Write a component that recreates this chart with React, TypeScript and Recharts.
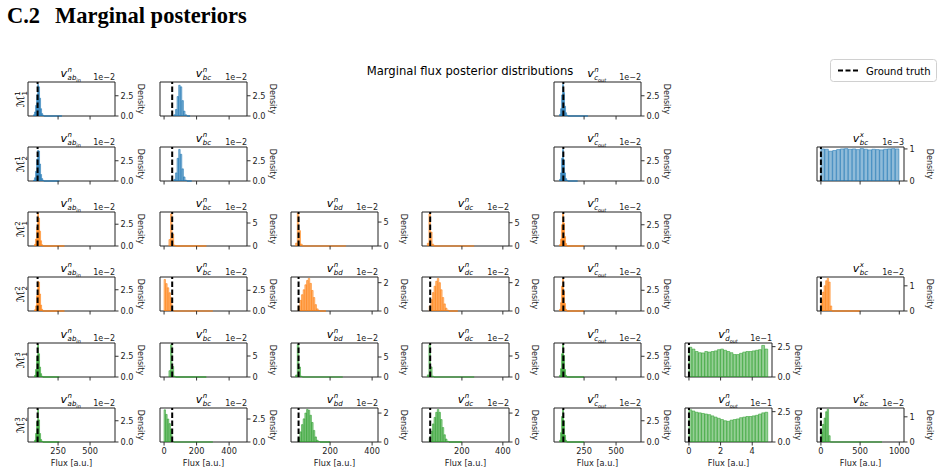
import React from 'react';
import { ComposedChart, Bar, XAxis, YAxis, ReferenceLine, ReferenceArea } from 'recharts';

const FONT = "'DejaVu Sans', sans-serif";

// ---- column definitions ----
const colDomains: [number, number][] = [[15, 695], [-25, 510], [14, 428], [5, 430], [15, 695], [-0.25, 5.25], [-50, 1060]];
const colTicks = [[250, 500], [0, 200, 400], [200, 400], [200, 400], [250, 500], [0, 2, 4], [0, 500, 1000]];
const groundTruth = [90, 50, 50, 45, 88, 0, 0];
const colSup = ['n', 'n', 'n', 'n', 'n', 'n', 'x'];
const colSub = ['ab', 'bc', 'bd', 'dc', 'c', 'd', 'bc'];
const colSubSub = ['in', '', '', '', 'out', 'out', ''];
const rowColors = ['#1f77b4', '#1f77b4', '#ff7f0e', '#ff7f0e', '#2ca02c', '#2ca02c'];
const rowSup = ['1', '1', '2', '2', '3', '3'];
const rowSub = ['1', '2', '1', '2', '1', '2'];

// ---- histogram values (density, in units of the offset label) ----
const histR1C1 = [0.15, 0.5, 1.3, 2.6, 3.9, 3.6, 2.2, 0.9, 0.3, 0.1];
const histR2C1 = [0.1, 0.4, 1.2, 2.7, 3.8, 3.7, 2.1, 0.8, 0.3, 0.1];
const histR3C1 = [0.2, 0.8, 2.2, 3.8, 3.2, 1.7, 0.6, 0.15];
const histR4C1 = [0.15, 0.6, 1.8, 3.5, 3.4, 2.0, 0.7, 0.2];
const histR5C1 = [0.2, 0.9, 2.5, 3.9, 2.8, 1.2, 0.4, 0.1];
const histR6C1 = [0.2, 1.0, 2.4, 3.8, 2.6, 1.0, 0.3, 0.1];

const histR1C2 = [0.15, 0.8, 2.4, 3.8, 3.6, 1.9, 0.6, 0.15];
const histR2C2 = [0.2, 1.0, 2.8, 3.9, 3.3, 1.5, 0.5, 0.1];
const histR3C2 = [1.4, 7.0, 2.6, 0.2];
const histR4C2 = [3.8, 3.3, 2.8, 2.2, 1.6, 0.05];
const histR5C2 = [1.5, 7.7, 2.5, 0.2];
const histR6C2 = [3.5, 3.0, 2.5, 2.0, 1.4, 0.05];

const histR3C3 = [0.6, 6.9, 3.2, 0.4];
const histR4C3 = [0.35, 0.75, 1.15, 1.5, 1.85, 2.15, 2.3, 1.95, 1.45, 0.95, 0.45, 0.15, 0.04];
const histR5C3 = [0.5, 8.1, 2.5, 0.2];
const histR6C3 = [0.3, 0.7, 1.2, 1.6, 2.0, 2.25, 2.2, 1.85, 1.35, 0.8, 0.35, 0.12, 0.03];

const histR3C4 = [0.6, 6.9, 3.0, 0.4];
const histR4C4 = [0.35, 0.8, 1.3, 1.75, 2.1, 2.3, 2.0, 1.5, 0.95, 0.5, 0.2, 0.06];
const histR5C4 = [0.5, 7.7, 2.4, 0.2];
const histR6C4 = [0.3, 0.75, 1.25, 1.7, 2.05, 2.25, 2.05, 1.55, 1.0, 0.5, 0.2, 0.05];

const histR1C5 = [0.2, 0.9, 2.6, 3.9, 2.9, 1.2, 0.4, 0.1];
const histR2C5 = [0.2, 1.0, 2.8, 3.9, 2.6, 1.0, 0.3, 0.1];
const histR3C5 = [0.15, 0.8, 2.5, 3.8, 2.7, 1.1, 0.3];
const histR4C5 = [0.2, 1.0, 3.0, 3.9, 2.4, 0.9, 0.2];
const histR5C5 = [0.2, 1.0, 2.8, 3.9, 2.6, 0.9, 0.2];
const histR6C5 = [0.2, 1.1, 3.0, 3.8, 2.5, 0.8, 0.2];

const histR5C6 = [2.45, 2.3, 2.1, 2.0, 1.98, 2.1, 2.05, 2.1, 2.15, 2.25, 2.3, 2.2, 2.1, 2.0, 1.85, 1.85, 1.95, 2.05, 2.1, 2.1, 2.15, 2.2, 2.25, 2.6, 2.3];
const histR6C6 = [2.65, 2.55, 2.45, 2.4, 2.35, 2.3, 2.25, 2.15, 2.05, 1.95, 1.85, 1.75, 1.7, 1.8, 1.85, 1.9, 2.0, 2.05, 2.1, 2.1, 2.15, 2.2, 2.3, 2.4, 2.45];

const histR2C7 = [1.0, 0.99, 0.93, 0.95, 0.98, 1.0, 1.01, 0.99, 1.0, 0.98, 1.01, 0.99, 0.97, 0.99, 0.98, 0.97, 0.99, 1.0, 1.01, 1.0];
const histR4C7 = [0.45, 0.75, 1.0, 1.2, 1.3, 1.15, 0.2];
const histR6C7 = [0.4, 0.7, 0.95, 1.2, 1.3, 0.25];

type Panel = { row: number; col: number; start: number; width: number; values: number[]; tail: number; yMax: number; yTicks: number[]; offset: string };

const panels: Panel[] = [
  { row: 0, col: 0, start: 58, width: 8, values: histR1C1, tail: 280, yMax: 4.2, yTicks: [0, 2.5], offset: '1e\u22122' },
  { row: 0, col: 1, start: 60, width: 10, values: histR1C2, tail: 160, yMax: 4.2, yTicks: [0, 2.5], offset: '1e\u22122' },
  { row: 0, col: 4, start: 58, width: 8, values: histR1C5, tail: 280, yMax: 4.2, yTicks: [0, 2.5], offset: '1e\u22122' },

  { row: 1, col: 0, start: 58, width: 8, values: histR2C1, tail: 260, yMax: 4.2, yTicks: [0, 2.5], offset: '1e\u22122' },
  { row: 1, col: 1, start: 60, width: 10, values: histR2C2, tail: 170, yMax: 4.2, yTicks: [0, 2.5], offset: '1e\u22122' },
  { row: 1, col: 4, start: 58, width: 8, values: histR2C5, tail: 200, yMax: 4.2, yTicks: [0, 2.5], offset: '1e\u22122' },
  { row: 1, col: 6, start: 0, width: 50, values: histR2C7, tail: 0, yMax: 1.06, yTicks: [0, 1], offset: '1e\u22123' },

  { row: 2, col: 0, start: 66, width: 8, values: histR3C1, tail: 300, yMax: 3.9, yTicks: [0, 2.5], offset: '1e\u22122' },
  { row: 2, col: 1, start: 30, width: 10, values: histR3C2, tail: 260, yMax: 7.4, yTicks: [0, 5], offset: '1e\u22122' },
  { row: 2, col: 2, start: 36, width: 8, values: histR3C3, tail: 275, yMax: 7.1, yTicks: [0, 5], offset: '1e\u22122' },
  { row: 2, col: 3, start: 31, width: 8, values: histR3C4, tail: 260, yMax: 7.3, yTicks: [0, 5], offset: '1e\u22122' },
  { row: 2, col: 4, start: 58, width: 8, values: histR3C5, tail: 250, yMax: 4.0, yTicks: [0, 2.5], offset: '1e\u22122' },

  { row: 3, col: 0, start: 66, width: 8, values: histR4C1, tail: 300, yMax: 4.0, yTicks: [0, 2.5], offset: '1e\u22122' },
  { row: 3, col: 1, start: 0, width: 10, values: histR4C2, tail: 300, yMax: 4.1, yTicks: [0, 2.5], offset: '1e\u22122' },
  { row: 3, col: 2, start: 48, width: 8, values: histR4C3, tail: 180, yMax: 2.4, yTicks: [0, 2], offset: '1e\u22122' },
  { row: 3, col: 3, start: 40, width: 8, values: histR4C4, tail: 180, yMax: 2.4, yTicks: [0, 2], offset: '1e\u22122' },
  { row: 3, col: 4, start: 58, width: 8, values: histR4C5, tail: 250, yMax: 4.1, yTicks: [0, 2.5], offset: '1e\u22122' },
  { row: 3, col: 6, start: 0, width: 20, values: histR4C7, tail: 500, yMax: 1.35, yTicks: [0, 1], offset: '1e\u22122' },

  { row: 4, col: 0, start: 66, width: 8, values: histR5C1, tail: 260, yMax: 4.1, yTicks: [0, 2.5], offset: '1e\u22122' },
  { row: 4, col: 1, start: 30, width: 10, values: histR5C2, tail: 260, yMax: 8.1, yTicks: [0, 5], offset: '1e\u22122' },
  { row: 4, col: 2, start: 36, width: 8, values: histR5C3, tail: 260, yMax: 8.5, yTicks: [0, 5], offset: '1e\u22122' },
  { row: 4, col: 3, start: 31, width: 8, values: histR5C4, tail: 260, yMax: 8.1, yTicks: [0, 5], offset: '1e\u22122' },
  { row: 4, col: 4, start: 58, width: 8, values: histR5C5, tail: 250, yMax: 4.1, yTicks: [0, 2.5], offset: '1e\u22122' },
  { row: 4, col: 5, start: 0, width: 0.2, values: histR5C6, tail: 0, yMax: 2.8, yTicks: [0, 2.5], offset: '1e\u22121' },

  { row: 5, col: 0, start: 66, width: 8, values: histR6C1, tail: 260, yMax: 4.0, yTicks: [0, 2.5], offset: '1e\u22122' },
  { row: 5, col: 1, start: 0, width: 10, values: histR6C2, tail: 300, yMax: 3.7, yTicks: [0, 2.5], offset: '1e\u22122' },
  { row: 5, col: 2, start: 48, width: 8, values: histR6C3, tail: 200, yMax: 2.35, yTicks: [0, 2], offset: '1e\u22122' },
  { row: 5, col: 3, start: 40, width: 8, values: histR6C4, tail: 200, yMax: 2.35, yTicks: [0, 2], offset: '1e\u22122' },
  { row: 5, col: 4, start: 58, width: 8, values: histR6C5, tail: 250, yMax: 4.0, yTicks: [0, 2.5], offset: '1e\u22122' },
  { row: 5, col: 5, start: 0, width: 0.2, values: histR6C6, tail: 0, yMax: 2.8, yTicks: [0, 2.5], offset: '1e\u22121' },
  { row: 5, col: 6, start: 0, width: 20, values: histR6C7, tail: 780, yMax: 1.35, yTicks: [0, 1], offset: '1e\u22122' },
];

// ---- layout ----
const COL_LEFT = [28, 160, 291, 422, 554, 685, 817];
const ROW_TOP = [82, 147, 212, 277, 343, 408];
const PW = 87;
const PH = 34;
const M = 2;
const YW = 30;
const TXT = '#222';
const TICK_FS = 8.2;

const EmptyTick = () => <g />;

function PanelChart({ p }: { p: Panel }) {
  const [d0, d1] = colDomains[p.col];
  const data = p.values.map((v, i) => ({ x: p.start + p.width * (i + 0.5), y: v }));
  const barSize = (PW * p.width) / (d1 - d0);
  const isBottom = p.row === 5;
  const color = rowColors[p.row];
  const hasDecimal = p.yTicks.some((t) => !Number.isInteger(t));
  const binEnd = p.start + p.width * p.values.length;
  const xh = isBottom ? 20 : 6;
  return (
    <div style={{ position: 'absolute', left: COL_LEFT[p.col] - M, top: ROW_TOP[p.row] - M }}>
      <ComposedChart width={M + PW + YW} height={M + PH + xh} data={data} margin={{ top: M, left: M, right: 0, bottom: 0 }}>
        <XAxis
          dataKey="x"
          type="number"
          domain={[d0, d1]}
          ticks={colTicks[p.col]}
          allowDataOverflow
          interval={0}
          height={xh}
          tickSize={3.5}
          tickMargin={3}
          axisLine={false}
          tickLine={{ stroke: '#333' }}
          tick={isBottom ? { fontSize: TICK_FS, fill: TXT, fontFamily: FONT } : EmptyTick}
        />
        <YAxis
          orientation="right"
          type="number"
          domain={[0, p.yMax]}
          ticks={p.yTicks}
          allowDataOverflow
          interval={0}
          width={YW}
          tickSize={3.5}
          tickMargin={2}
          axisLine={false}
          tickLine={{ stroke: '#333' }}
          tick={{ fontSize: TICK_FS, fill: TXT, fontFamily: FONT }}
          tickFormatter={(v: number) => (hasDecimal ? v.toFixed(1) : String(v))}
        />
        <Bar dataKey="y" barSize={barSize} fill={color} fillOpacity={0.5} stroke={color} strokeOpacity={0.8} strokeWidth={0.7} isAnimationActive={false} />
        {p.tail > binEnd && (
          <ReferenceLine segment={[{ x: binEnd, y: 0 }, { x: p.tail, y: 0 }]} stroke={color} strokeWidth={1.2} ifOverflow="visible" />
        )}
        <ReferenceLine x={groundTruth[p.col]} stroke="#000" strokeWidth={2} strokeDasharray="5.5 2.5" />
        <ReferenceArea x1={d0} x2={d1} y1={0} y2={p.yMax} fill="none" fillOpacity={0} stroke="#222" strokeWidth={1} ifOverflow="visible" />
      </ComposedChart>
    </div>
  );
}

function PanelTitle({ col, row }: { col: number; row: number }) {
  const cx = COL_LEFT[col] + PW / 2;
  const top = ROW_TOP[row];
  const vW = 6.6;
  const subW = colSub[col].length * 4.4 + colSubSub[col].length * 3.2;
  const total = vW + Math.max(subW, 4.6);
  const x0 = cx - total / 2;
  return (
    <g fontFamily={FONT} fontStyle="italic" fill="#000">
      <text x={x0} y={top - 5} fontSize={11}>v</text>
      <text x={x0 + vW + 0.4} y={top - 10.4} fontSize={7}>{colSup[col]}</text>
      <text x={x0 + vW + 0.4} y={top - 1.8} fontSize={7}>
        {colSub[col]}
        {colSubSub[col] ? <tspan fontSize={5} dy={1.4}>{colSubSub[col]}</tspan> : null}
      </text>
    </g>
  );
}

export default function App() {
  return (
    <div style={{ position: 'absolute', left: 0, top: 0, width: 943, height: 475, background: '#fff', overflow: 'hidden' }}>
      {panels.map((p) => (
        <PanelChart key={`${p.row}-${p.col}`} p={p} />
      ))}
      <svg width={943} height={475} style={{ position: 'absolute', left: 0, top: 0, pointerEvents: 'none' }}>
        <text x={7} y={23} fontFamily="'Liberation Serif', 'Times New Roman', serif" fontWeight="bold" fontSize={22.5} fill="#000">C.2</text>
        <text x={55} y={23} fontFamily="'Liberation Serif', 'Times New Roman', serif" fontWeight="bold" fontSize={22.5} fill="#000">Marginal posteriors</text>
        <text x={470} y={75} textAnchor="middle" fontFamily={FONT} fontSize={11.6} fill="#000">Marginal flux posterior distributions</text>

        <rect x={830.5} y={59.5} width={106} height={22} rx={3} fill="#fff" stroke="#d0d0d0" strokeWidth={1} />
        <line x1={838} x2={858} y1={70.5} y2={70.5} stroke="#000" strokeWidth={2} strokeDasharray="5 2.5" />
        <text x={866} y={74.5} fontFamily={FONT} fontSize={10} fill="#000">Ground truth</text>

        {panels.map((p) => {
          const L = COL_LEFT[p.col];
          const T = ROW_TOP[p.row];
          return (
            <g key={`t-${p.row}-${p.col}`}>
              <PanelTitle col={p.col} row={p.row} />
              <text x={L + PW} y={T - 2} textAnchor="end" fontFamily={FONT} fontSize={8} fill={TXT}>{p.offset}</text>
              <text transform={`translate(${L + PW + 23}, ${T + PH / 2}) rotate(90)`} textAnchor="middle" fontFamily={FONT} fontSize={8} fill={TXT}>Density</text>
              {p.row === 5 && (
                <text x={L + PW / 2} y={466} textAnchor="middle" fontFamily={FONT} fontSize={8.2} fill={TXT}>Flux [a.u.]</text>
              )}
            </g>
          );
        })}

        {ROW_TOP.map((T, r) => (
          <text key={`rl-${r}`} transform={`translate(24, ${T + PH / 2}) rotate(-90)`} textAnchor="middle" fontFamily={FONT} fontSize={10.5} fill="#000">
            {'\u2133'}
            <tspan fontSize={7} dy={-4}>{rowSup[r]}</tspan>
            <tspan fontSize={7} dx={-4} dy={6.5}>{rowSub[r]}</tspan>
          </text>
        ))}
      </svg>
    </div>
  );
}
